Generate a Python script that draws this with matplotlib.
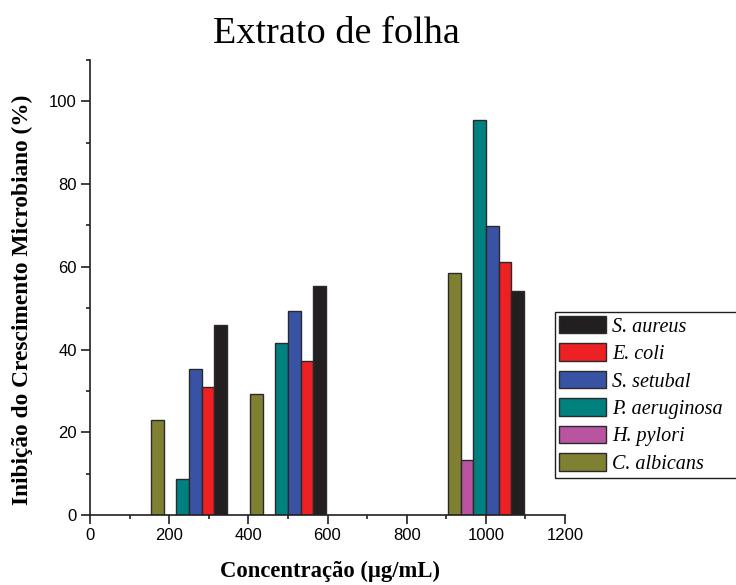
import numpy as np
import matplotlib
matplotlib.use("Agg")
import matplotlib.pyplot as plt
from matplotlib.ticker import MultipleLocator
from matplotlib.patches import Rectangle

concentrations = [250, 500, 1000]
species = ["C. albicans", "H. pylori", "P. aeruginosa", "S. setubal", "E. coli", "S. aureus"]
c_albicans = [23.0, 29.2, 58.5]
h_pylori = [np.nan, np.nan, 13.4]
p_aeruginosa = [8.8, 41.5, 95.5]
s_setubal = [35.2, 49.3, 69.8]
e_coli = [30.9, 37.3, 61.2]
s_aureus = [45.9, 55.4, 54.1]
series = [c_albicans, h_pylori, p_aeruginosa, s_setubal, e_coli, s_aureus]
colors = ["#808033", "#B954A0", "#00817F", "#3953A4", "#ED2024", "#231F20"]

fig = plt.figure(figsize=(7.36, 5.85), dpi=100)
ax = fig.add_axes([90/736, 1-515/585, 475/736, 455/585])

width = 32
offsets = [-80, -48, -16, 16, 48, 80]
handles = []
x = np.array(concentrations, dtype=float)
for vals, col, off, name in zip(series, colors, offsets, species):
    b = ax.bar(x + off, vals, width=width, color=col, edgecolor="#2a2a2a",
               linewidth=1.0, label=name)
    handles.append(b)

ax.set_xlim(0, 1200)
ax.set_ylim(0, 110)
ax.xaxis.set_major_locator(MultipleLocator(200))
ax.xaxis.set_minor_locator(MultipleLocator(100))
ax.yaxis.set_minor_locator(MultipleLocator(10))
ax.set_yticks([0, 20, 40, 60, 80, 100])
for s in ["top", "right"]:
    ax.spines[s].set_visible(False)
for s in ["left", "bottom"]:
    ax.spines[s].set_linewidth(1.2)
    ax.spines[s].set_color("#231F20")
ax.tick_params(which="major", direction="out", length=6.5, width=1.2, labelsize=12,
               color="#231F20", pad=3)
ax.tick_params(which="minor", direction="out", length=3, width=1.2, color="#231F20")
for lab in ax.get_xticklabels() + ax.get_yticklabels():
    lab.set_fontfamily("Liberation Sans")

fig.text(330/736, 1-577/585, "Concentração (µg/mL)", fontfamily="Liberation Serif",
         fontweight="bold", fontsize=16.3, ha="center", va="baseline")
fig.text(22/736, 1-300/585, "Inibição do Crescimento Microbiano (%)",
         fontfamily="Liberation Serif", fontweight="bold", fontsize=16.8,
         rotation=90, ha="center", va="center")
fig.text(336/736, 1-43/585, "Extrato de folha", fontfamily="Liberation Serif",
         fontsize=27.5, ha="center", va="baseline")

leg = fig.legend(handles[::-1], species[::-1], loc="upper left",
                 bbox_to_anchor=(555/736, 1-312/585),
                 prop={"family": "Liberation Serif", "style": "italic", "size": 14.5},
                 handlelength=2.34, handleheight=0.95, labelspacing=0.34,
                 handletextpad=0.3, borderpad=0.2, borderaxespad=0,
                 frameon=False)

# Legend frame extending past the right edge, as in the reference
fig.canvas.draw()
bb = leg.get_window_extent().transformed(fig.transFigure.inverted())
frame = Rectangle((bb.x0, bb.y0), 1.05 - bb.x0, bb.height, transform=fig.transFigure,
                  fill=False, edgecolor="#231F20", linewidth=1.0, clip_on=False)
fig.patches.append(frame)

fig.savefig("out.png", dpi=100)
